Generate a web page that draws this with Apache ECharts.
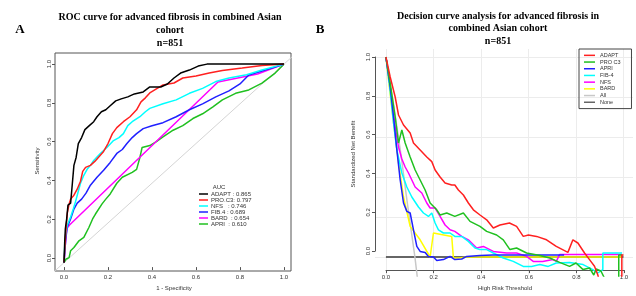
<!DOCTYPE html>
<html>
<head>
<meta charset="utf-8">
<script src="https://cdn.jsdelivr.net/npm/echarts@6.0.0/dist/echarts.min.js"></script>
<style>
html,body{margin:0;padding:0;background:#fff}
#main{width:636px;height:296px}
</style>
</head>
<body>
<div id="main"></div>
<script>
// ---- panel A: ROC curves (1 - specificity, sensitivity)
const rocModels = ['ADAPT', 'PRO.C3', 'NFS', 'FIB.4', 'BARD', 'APRI'];
const rocAuc = ['0.865', '0.797', '0.746', '0.689', '0.654', '0.610'];
const rocColors = ['#000000', '#ff2020', '#00ffff', '#2020ff', '#ff00ff', '#20c020'];

const rocAdapt = [[0,0],[0.003,0.10],[0.006,0.17],[0.012,0.22],[0.018,0.29],[0.03,0.30],[0.038,0.40],[0.045,0.49],[0.055,0.53],[0.065,0.60],[0.08,0.63],[0.095,0.67],[0.115,0.69],[0.135,0.71],[0.15,0.735],[0.17,0.76],[0.19,0.77],[0.21,0.79],[0.235,0.815],[0.26,0.825],[0.29,0.835],[0.32,0.85],[0.36,0.86],[0.39,0.885],[0.44,0.885],[0.47,0.90],[0.50,0.93],[0.53,0.955],[0.57,0.97],[0.61,0.99],[0.65,1],[1,1]];
const rocProc3 = [[0,0],[0.004,0.08],[0.008,0.15],[0.015,0.25],[0.022,0.29],[0.03,0.32],[0.045,0.34],[0.06,0.37],[0.075,0.41],[0.085,0.46],[0.098,0.48],[0.12,0.49],[0.14,0.51],[0.16,0.535],[0.18,0.56],[0.20,0.60],[0.22,0.65],[0.24,0.68],[0.27,0.71],[0.30,0.735],[0.33,0.77],[0.35,0.81],[0.37,0.83],[0.39,0.855],[0.42,0.875],[0.45,0.895],[0.50,0.905],[0.54,0.93],[0.60,0.94],[0.66,0.955],[0.72,0.968],[0.81,0.98],[0.90,0.993],[1,1]];
const rocNfs = [[0,0],[0.004,0.10],[0.008,0.15],[0.015,0.19],[0.03,0.23],[0.042,0.27],[0.053,0.31],[0.065,0.36],[0.075,0.40],[0.09,0.44],[0.105,0.47],[0.12,0.49],[0.135,0.515],[0.165,0.55],[0.195,0.58],[0.225,0.615],[0.25,0.63],[0.27,0.65],[0.29,0.69],[0.31,0.71],[0.345,0.735],[0.37,0.76],[0.39,0.777],[0.45,0.80],[0.51,0.82],[0.57,0.853],[0.63,0.878],[0.69,0.912],[0.75,0.93],[0.83,0.946],[0.90,0.97],[1,1]];
const rocFib4 = [[0,0],[0.004,0.06],[0.008,0.12],[0.015,0.18],[0.03,0.22],[0.045,0.27],[0.06,0.30],[0.08,0.32],[0.10,0.35],[0.12,0.39],[0.15,0.43],[0.18,0.465],[0.21,0.505],[0.24,0.55],[0.265,0.57],[0.286,0.60],[0.31,0.63],[0.33,0.65],[0.36,0.675],[0.40,0.69],[0.45,0.705],[0.51,0.735],[0.57,0.77],[0.63,0.80],[0.69,0.835],[0.75,0.865],[0.80,0.90],[0.84,0.945],[0.90,0.965],[0.96,0.985],[1,1]];
const rocBard = [[0,0],[0.005,0.08],[0.012,0.17],[0.025,0.19],[0.70,0.91],[0.88,0.95],[1,1]];
const rocApri = [[0,0],[0.008,0.017],[0.023,0.025],[0.03,0.06],[0.045,0.076],[0.068,0.11],[0.09,0.127],[0.113,0.177],[0.13,0.22],[0.143,0.245],[0.173,0.296],[0.19,0.32],[0.21,0.346],[0.24,0.40],[0.265,0.43],[0.31,0.455],[0.33,0.47],[0.345,0.53],[0.355,0.58],[0.39,0.59],[0.42,0.61],[0.45,0.633],[0.496,0.667],[0.54,0.69],[0.586,0.726],[0.63,0.75],[0.677,0.785],[0.72,0.82],[0.78,0.853],[0.84,0.87],[0.90,0.904],[0.96,0.955],[1,1]];
const rocDiag = [[-0.05,-0.05],[1.05,1.05]];
const rocData = [rocAdapt, rocProc3, rocNfs, rocFib4, rocBard, rocApri];

// ---- panel B: decision curves (threshold, standardized net benefit)
const dcaModels = ['ADAPT', 'PRO C3', 'APRI', 'FIB-4', 'NFS', 'BARD', 'All', 'None'];
const dcaColors = ['#ff2020', '#20c020', '#2020ff', '#00ffff', '#ff00ff', '#ffff00', '#c8c8c8', '#666666'];

const dcaAdapt = [[0,1],[0.018,0.90],[0.039,0.80],[0.053,0.71],[0.074,0.66],[0.102,0.62],[0.116,0.57],[0.144,0.535],[0.172,0.50],[0.193,0.477],[0.207,0.435],[0.228,0.40],[0.249,0.37],[0.277,0.36],[0.29,0.36],[0.305,0.335],[0.326,0.31],[0.347,0.27],[0.368,0.236],[0.396,0.21],[0.424,0.186],[0.452,0.145],[0.48,0.16],[0.52,0.17],[0.55,0.153],[0.578,0.103],[0.60,0.11],[0.634,0.103],[0.676,0.086],[0.717,0.053],[0.766,0.023],[0.787,0.086],[0.808,0.07],[0.836,0.02],[0.857,-0.013],[0.878,-0.046],[0.892,-0.09],[0.90,-0.13],[0.993,-0.13],[0.993,0.01],[1,0.01]];
const dcaProc3 = [[0,1],[0.018,0.867],[0.039,0.70],[0.053,0.57],[0.067,0.635],[0.081,0.57],[0.102,0.50],[0.123,0.435],[0.144,0.385],[0.165,0.335],[0.186,0.27],[0.214,0.236],[0.228,0.21],[0.256,0.22],[0.29,0.203],[0.326,0.22],[0.354,0.178],[0.396,0.153],[0.424,0.128],[0.466,0.11],[0.494,0.086],[0.522,0.037],[0.55,0.045],[0.592,0.02],[0.648,0.007],[0.69,-0.005],[0.731,-0.027],[0.773,-0.047],[0.80,-0.03],[0.83,-0.063],[0.857,-0.055],[0.875,-0.09],[0.885,-0.06],[0.905,-0.07],[0.93,-0.13],[0.98,-0.13],[0.98,0.01],[0.995,0.01]];
const dcaApri = [[0,1],[0.018,0.85],[0.032,0.70],[0.046,0.535],[0.06,0.385],[0.074,0.27],[0.088,0.228],[0.102,0.22],[0.116,0.136],[0.13,0.053],[0.144,0.028],[0.165,0.023],[0.179,0.003],[0.2,0],[0.214,-0.017],[0.242,-0.013],[0.27,0.003],[0.29,-0.013],[0.319,-0.01],[0.34,0.003],[0.396,0.007],[0.45,0.01],[0.75,0.01]];
const dcaFib4 = [[0,1],[0.018,0.83],[0.032,0.67],[0.046,0.535],[0.067,0.42],[0.088,0.35],[0.109,0.30],[0.137,0.25],[0.158,0.22],[0.179,0.203],[0.193,0.22],[0.207,0.17],[0.221,0.136],[0.242,0.12],[0.27,0.12],[0.29,0.103],[0.319,0.103],[0.347,0.078],[0.375,0.045],[0.396,0.037],[0.424,0.037],[0.452,0.02],[0.494,-0.005],[0.536,-0.022],[0.578,-0.047],[0.613,-0.047],[0.648,-0.038],[0.683,-0.047],[0.717,-0.03],[0.773,-0.027],[0.83,-0.038],[0.871,-0.063],[0.892,-0.08],[0.913,-0.063],[0.913,0.02],[0.994,0.02]];
const dcaNfs = [[0,1],[0.018,0.85],[0.039,0.65],[0.053,0.55],[0.067,0.49],[0.081,0.45],[0.095,0.42],[0.109,0.385],[0.123,0.35],[0.137,0.335],[0.151,0.32],[0.172,0.27],[0.186,0.245],[0.207,0.245],[0.228,0.203],[0.249,0.16],[0.27,0.136],[0.29,0.128],[0.319,0.103],[0.347,0.086],[0.382,0.045],[0.41,0.053],[0.452,0.028],[0.508,0.02],[0.55,0.02],[0.592,0.003],[0.62,-0.022],[0.66,-0.022],[0.703,-0.013],[0.717,-0.022],[0.731,0.012],[0.994,0.012]];
const dcaBard = [[0,1],[0.032,0.67],[0.053,0.47],[0.074,0.30],[0.102,0.153],[0.144,0.086],[0.186,0],[0.2,0.12],[0.277,0.103],[0.284,-0.005],[0.312,-0.005],[0.34,0],[0.994,0]];
const dcaAll = [[0,1],[0.03,0.78],[0.06,0.54],[0.09,0.27],[0.122,0],[0.135,-0.13]];
const dcaNone = [[0,0],[1,0]];
const dcaData = [dcaAdapt, dcaProc3, dcaApri, dcaFib4, dcaNfs, dcaBard, dcaAll, dcaNone];

const tickValues = [0, 0.2, 0.4, 0.6, 0.8, 1.0];

const small = { fontFamily: 'Liberation Sans', fontSize: 6, color: '#333' };
const rocLabel = (m, i) => m.padEnd(6, ' ') + ': ' + rocAuc[i];

const chart = echarts.init(document.getElementById('main'), null, { renderer: 'canvas' });

const series = [];
series.push({
    type: 'line', xAxisIndex: 0, yAxisIndex: 0, data: rocDiag, symbol: 'none',
    lineStyle: { color: '#d4d4d4', width: 1 }, silent: true, z: 1
});
rocModels.forEach((m, i) => {
    series.push({
        name: rocLabel(m, i), type: 'line', xAxisIndex: 0, yAxisIndex: 0,
        data: rocData[i], symbol: 'none', color: rocColors[i],
        lineStyle: { color: rocColors[i], width: 1.5 }, z: 10 - i
    });
});
// draw None / All under the model curves
const dcaOrder = [7, 6, 5, 4, 3, 2, 1, 0];
dcaOrder.forEach(i => {
    series.push({
        name: dcaModels[i], type: 'line', xAxisIndex: 2, yAxisIndex: 2,
        data: dcaData[i], symbol: 'none', color: dcaColors[i],
        lineStyle: { color: dcaColors[i], width: i === 7 ? 2 : 1.5 }
    });
});

const option = {
    animation: false,
    backgroundColor: '#fff',
    graphic: [
        { type: 'text', x: 20, y: 30, style: { text: 'A', fontFamily: 'Liberation Serif', fontWeight: 'bold', fontSize: 13, textAlign: 'center', textVerticalAlign: 'middle', fill: '#000' } },
        { type: 'text', x: 170, y: 17, style: { text: 'ROC curve for advanced fibrosis in combined Asian', fontFamily: 'Liberation Serif', fontWeight: 'bold', fontSize: 10, textAlign: 'center', textVerticalAlign: 'middle', fill: '#000' } },
        { type: 'text', x: 170, y: 30, style: { text: 'cohort', fontFamily: 'Liberation Serif', fontWeight: 'bold', fontSize: 10, textAlign: 'center', textVerticalAlign: 'middle', fill: '#000' } },
        { type: 'text', x: 170, y: 43, style: { text: 'n=851', fontFamily: 'Liberation Serif', fontWeight: 'bold', fontSize: 10, textAlign: 'center', textVerticalAlign: 'middle', fill: '#000' } },
        { type: 'text', x: 320, y: 30, style: { text: 'B', fontFamily: 'Liberation Serif', fontWeight: 'bold', fontSize: 13, textAlign: 'center', textVerticalAlign: 'middle', fill: '#000' } },
        { type: 'text', x: 498, y: 16, style: { text: 'Decision curve analysis for advanced fibrosis in', fontFamily: 'Liberation Serif', fontWeight: 'bold', fontSize: 10, textAlign: 'center', textVerticalAlign: 'middle', fill: '#000' } },
        { type: 'text', x: 498, y: 28.7, style: { text: 'combined Asian cohort', fontFamily: 'Liberation Serif', fontWeight: 'bold', fontSize: 10, textAlign: 'center', textVerticalAlign: 'middle', fill: '#000' } },
        { type: 'text', x: 498, y: 41.3, style: { text: 'n=851', fontFamily: 'Liberation Serif', fontWeight: 'bold', fontSize: 10, textAlign: 'center', textVerticalAlign: 'middle', fill: '#000' } },
        { type: 'text', x: 219, y: 187, style: { text: 'AUC', fontFamily: 'Liberation Sans', fontSize: 6, textAlign: 'center', textVerticalAlign: 'middle', fill: '#333' } }
    ],
    legend: [
        {
            data: rocModels.map(rocLabel), orient: 'vertical', left: 199, top: 191,
            padding: 0, itemGap: 0, itemWidth: 9, itemHeight: 1.5, icon: 'rect',
            textStyle: Object.assign({}, small, { lineHeight: 5.8, padding: [0, 0, 0, -2] }),
            selectedMode: false
        },
        {
            data: dcaModels, orient: 'vertical', left: 579, top: 49,
            padding: [3, 11, 3, 5], itemGap: 0, itemWidth: 11, itemHeight: 1.5, icon: 'rect',
            borderColor: '#444', borderWidth: 1,
            textStyle: { fontFamily: 'Liberation Sans', fontSize: 5.5, color: '#333', lineHeight: 6.7 },
            selectedMode: false
        }
    ],
    grid: [
        { left: 55, top: 53, width: 236, height: 218, show: true, borderColor: '#555', borderWidth: 1, backgroundColor: 'transparent' },
        { left: 64, top: 64, width: 220, height: 198 },
        { left: 375, top: 49, width: 258, height: 227 },
        { left: 386, top: 57, width: 238, height: 200 }
    ],
    xAxis: [
        { gridIndex: 0, type: 'value', min: -0.041, max: 1.032, show: false },
        {
            gridIndex: 1, type: 'value', min: 0, max: 1, interval: 0.2, offset: 9,
            axisLine: { show: false, onZero: false }, splitLine: { show: false },
            axisTick: { length: 3, lineStyle: { color: '#555' } },
            axisLabel: Object.assign({ margin: 7, formatter: v => v.toFixed(1) }, small),
            name: '1 - Specificity', nameLocation: 'middle', nameGap: 16, nameTextStyle: small
        },
        {
            gridIndex: 2, type: 'value', min: -0.046, max: 1.04,
            axisLine: { show: false, onZero: false }, axisTick: { show: false, customValues: tickValues },
            axisLabel: { show: false, customValues: tickValues },
            splitLine: { show: true, lineStyle: { color: '#ececec', width: 1 } }
        },
        {
            gridIndex: 3, type: 'value', min: 0, max: 1, interval: 0.2, offset: 19,
            axisLine: { show: true, onZero: false, lineStyle: { color: '#555', width: 1 } }, splitLine: { show: false },
            axisTick: { length: 3, lineStyle: { color: '#555' } },
            axisLabel: Object.assign({ margin: 4, formatter: v => v.toFixed(1) }, small),
            name: 'High Risk Threshold', nameLocation: 'middle', nameGap: 14, nameTextStyle: small
        }
    ],
    yAxis: [
        { gridIndex: 0, type: 'value', min: -0.042, max: 1.056, show: false },
        {
            gridIndex: 1, type: 'value', min: 0, max: 1, interval: 0.2, offset: 9,
            axisLine: { show: false, onZero: false }, splitLine: { show: false },
            axisTick: { length: 3, lineStyle: { color: '#555' } },
            axisLabel: Object.assign({ margin: 3, rotate: 90, formatter: v => v.toFixed(1) }, small),
            name: 'Sensitivity', nameLocation: 'middle', nameRotate: 90, nameGap: 15, nameTextStyle: small
        },
        {
            gridIndex: 2, type: 'value', min: -0.095, max: 1.04,
            axisLine: { show: false, onZero: false }, axisTick: { show: false, customValues: tickValues },
            axisLabel: { show: false, customValues: tickValues },
            splitLine: { show: true, lineStyle: { color: '#ececec', width: 1 } }
        },
        {
            gridIndex: 3, type: 'value', min: 0, max: 1, interval: 0.2, offset: 11,
            axisLine: { show: true, onZero: false, lineStyle: { color: '#555', width: 1 } }, splitLine: { show: false },
            axisTick: { length: 3, lineStyle: { color: '#555' } },
            axisLabel: Object.assign({ margin: 4, rotate: 90, formatter: v => v.toFixed(1) }, small),
            name: 'Standardized Net Benefit', nameLocation: 'middle', nameRotate: 90, nameGap: 19, nameTextStyle: small
        }
    ],
    series: series
};

chart.setOption(option);
</script>
</body>
</html>
